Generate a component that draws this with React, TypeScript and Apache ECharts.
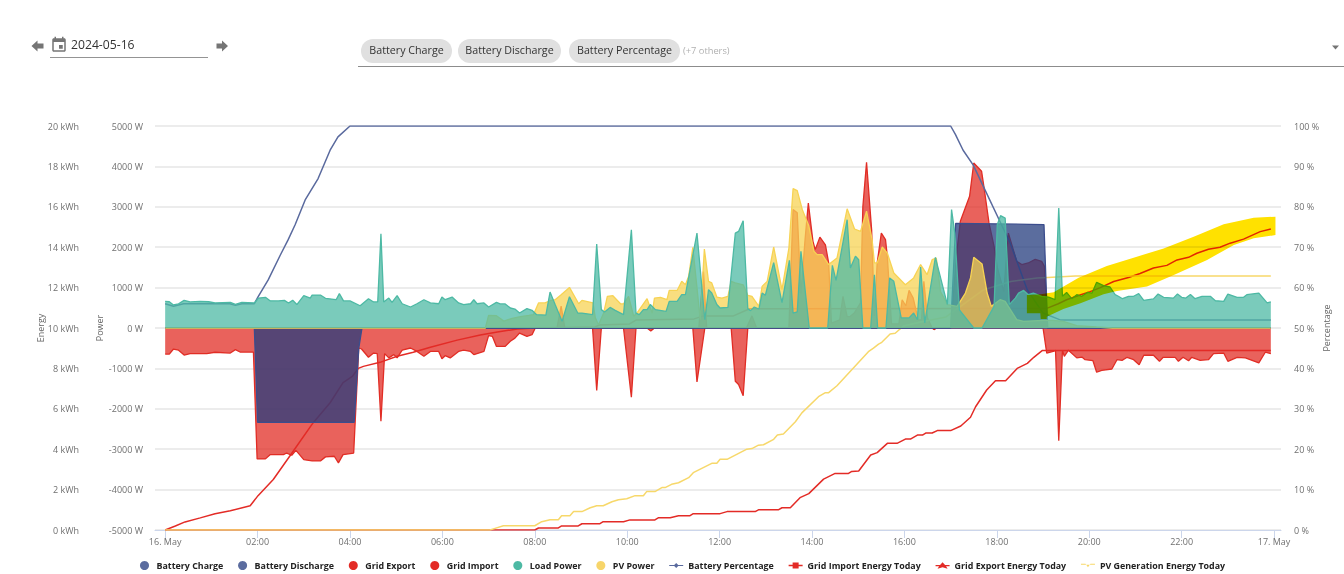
import React, { useEffect, useRef } from "react";
import * as echarts from "echarts";

type P = [number, number];

const tickHours = [0, 2, 4, 6, 8, 10, 12, 14, 16, 18, 20, 22, 24];
const tickLabels = ["16. May", "02:00", "04:00", "06:00", "08:00", "10:00", "12:00", "14:00", "16:00", "18:00", "20:00", "22:00", "17. May"];

const batteryCharge: P[] = [[0, 0], [1.93, 0], [2.0, -2335], [4.09, -2335], [4.19, -500], [4.26, 0], [23.93, 0]];
const batteryDischarge: P[] = [[0, 0], [17.0, 0], [17.11, 2590], [19.02, 2560], [19.1, 0], [23.93, 0]];

const gridExport: P[] = [[0, 0], [8.48, 0], [8.57, 540], [8.65, 0], [11.55, 0], [11.65, 1400], [11.72, 0], [12.58, 0], [12.7, 300], [12.8, 0], [13.5, 0], [13.59, 2930], [13.68, 2850], [13.76, 850], [13.85, 2200], [13.92, 3090], [14.02, 2145], [14.07, 1940], [14.17, 2250], [14.29, 2060], [14.36, 1610], [14.42, 120], [14.6, 200], [14.67, 785], [14.76, 280], [14.83, 290], [14.92, 380], [15.05, 620], [15.1, 3000], [15.18, 4100], [15.29, 2430], [15.35, 300], [15.41, 1610], [15.5, 2350], [15.59, 2190], [15.63, 1770], [15.72, 100], [15.88, 100], [15.95, 700], [16.03, 550], [16.1, 930], [16.19, 740], [16.3, 200], [16.37, 200], [16.42, 1155], [16.5, 250], [16.6, 0], [17.0, 0], [17.14, 1940], [17.21, 2640], [17.41, 3260], [17.5, 4085], [17.67, 3880], [17.72, 3500], [17.83, 2600], [17.94, 2020], [18.01, 1500], [18.15, 900], [18.25, 2350], [18.43, 1650], [18.54, 1570], [18.68, 1610], [18.83, 1700], [18.97, 1650], [19.03, 1525], [19.06, 865], [19.1, 0], [23.93, 0]];

const gridImport: P[] = [[0, -645], [0.09, -645], [0.18, -520], [0.29, -550], [0.41, -670], [0.54, -635], [0.9, -635], [1.08, -600], [1.41, -620], [1.52, -535], [1.62, -595], [1.91, -595], [1.99, -3240], [2.17, -3240], [2.27, -3135], [2.56, -3135], [2.63, -3095], [2.74, -3150], [2.83, -3030], [3.0, -3260], [3.18, -3290], [3.36, -3290], [3.47, -3190], [3.66, -3175], [3.75, -3340], [3.85, -3135], [4.08, -3095], [4.19, -495], [4.25, -520], [4.4, -725], [4.51, -620], [4.59, -635], [4.67, -2310], [4.75, -635], [4.84, -740], [4.95, -660], [5.02, -740], [5.13, -550], [5.31, -495], [5.45, -580], [5.6, -700], [5.74, -580], [5.92, -580], [5.99, -760], [6.06, -685], [6.17, -740], [6.35, -580], [6.46, -550], [6.61, -580], [6.68, -660], [6.9, -580], [7.0, -190], [7.08, -205], [7.17, -455], [7.36, -455], [7.47, -330], [7.57, -250], [7.67, -125], [7.83, -205], [7.94, -165], [8.01, 0], [9.25, 0], [9.34, -1545], [9.44, 0], [9.92, 0], [10.09, -1710], [10.19, 0], [10.43, 0], [10.51, -75], [10.59, 0], [11.42, 0], [11.51, -1335], [11.68, 0], [12.25, 0], [12.34, -1320], [12.41, -1400], [12.51, -1675], [12.61, 0], [16.6, 0], [16.64, -40], [16.7, 0], [19.0, 0], [19.08, -620], [19.22, -580], [19.27, -555], [19.34, -2790], [19.42, -550], [19.46, -700], [19.55, -550], [19.73, -740], [19.84, -720], [19.91, -785], [20.08, -810], [20.16, -1095], [20.27, -1050], [20.49, -1015], [20.6, -785], [20.71, -800], [20.82, -725], [20.96, -785], [21.08, -910], [21.18, -675], [21.39, -675], [21.52, -825], [21.6, -725], [21.86, -725], [21.93, -825], [22.03, -725], [22.15, -810], [22.22, -725], [22.4, -800], [22.58, -785], [22.69, -635], [22.91, -620], [23.0, -825], [23.2, -725], [23.38, -740], [23.67, -865], [23.81, -600], [23.93, -635]];

const loadPower: P[] = [[0, 660], [0.09, 650], [0.18, 570], [0.29, 600], [0.41, 685], [0.54, 645], [0.76, 660], [0.94, 650], [1.08, 620], [1.41, 635], [1.52, 585], [1.66, 635], [1.93, 620], [2.02, 740], [2.17, 760], [2.27, 675], [2.45, 670], [2.58, 685], [2.67, 620], [2.76, 685], [2.85, 580], [3.0, 800], [3.14, 740], [3.18, 815], [3.36, 815], [3.47, 735], [3.65, 710], [3.7, 700], [3.77, 850], [3.86, 670], [4.0, 670], [4.22, 550], [4.4, 725], [4.51, 645], [4.6, 645], [4.67, 2330], [4.73, 645], [4.84, 740], [4.91, 635], [5.02, 800], [5.13, 600], [5.31, 520], [5.45, 600], [5.6, 700], [5.74, 620], [5.92, 600], [5.99, 765], [6.06, 700], [6.21, 765], [6.35, 620], [6.46, 580], [6.61, 600], [6.68, 700], [6.75, 600], [6.9, 620], [7.0, 520], [7.17, 635], [7.25, 595], [7.36, 595], [7.47, 495], [7.57, 470], [7.67, 370], [7.83, 480], [7.94, 437], [8.04, 330], [8.24, 320], [8.33, 890], [8.44, 580], [8.59, 165], [8.75, 775], [8.93, 370], [9.02, 370], [9.25, 330], [9.34, 2080], [9.44, 455], [9.51, 395], [9.63, 510], [9.74, 437], [9.92, 330], [10.09, 2430], [10.19, 370], [10.26, 330], [10.35, 455], [10.43, 455], [10.5, 580], [10.61, 455], [10.84, 410], [10.91, 660], [11.08, 660], [11.18, 825], [11.26, 825], [11.51, 2350], [11.68, 205], [11.76, 950], [11.83, 865], [11.94, 580], [12.01, 495], [12.18, 510], [12.34, 2350], [12.41, 2390], [12.51, 2655], [12.61, 480], [12.67, 430], [12.75, 520], [12.85, 470], [12.92, 865], [12.99, 810], [13.17, 1620], [13.35, 630], [13.51, 1675], [13.59, 370], [13.68, 400], [13.76, 1900], [13.94, 0], [14.34, 0], [14.44, 1550], [14.52, 1180], [14.76, 2680], [14.83, 1485], [14.94, 1775], [15.01, 1690], [15.1, 0], [15.27, 0], [15.35, 1320], [15.42, 0], [15.6, 0], [15.68, 1240], [15.77, 1155], [15.93, 250], [16.1, 250], [16.2, 370], [16.28, 205], [16.35, 1510], [16.44, 125], [16.67, 1750], [16.93, 580], [17.02, 2930], [17.09, 2350], [17.19, 450], [17.5, 0], [17.68, 0], [17.94, 535], [18.01, 2560], [18.08, 2780], [18.18, 2720], [18.27, 580], [18.4, 740], [18.47, 865], [18.58, 930], [18.68, 825], [18.79, 865], [18.97, 785], [19.12, 765], [19.26, 700], [19.34, 2970], [19.42, 785], [19.51, 880], [19.62, 725], [19.73, 825], [19.84, 785], [19.96, 880], [20.06, 865], [20.16, 1130], [20.31, 1050], [20.45, 1015], [20.56, 825], [20.63, 785], [20.72, 725], [20.85, 785], [20.96, 785], [21.07, 850], [21.18, 685], [21.39, 720], [21.49, 840], [21.61, 760], [21.82, 740], [21.91, 840], [22.0, 760], [22.09, 740], [22.19, 830], [22.29, 725], [22.44, 785], [22.62, 785], [22.73, 675], [22.91, 660], [23.0, 840], [23.2, 760], [23.34, 760], [23.41, 825], [23.67, 865], [23.85, 620], [23.93, 645]];

const pvPower: P[] = [[0, 0], [6.93, 0], [7.0, 313], [7.17, 305], [7.33, 170], [7.51, 240], [7.69, 280], [7.87, 310], [7.97, 330], [8.08, 620], [8.22, 620], [8.33, 675], [8.44, 700], [8.57, 825], [8.75, 1005], [8.95, 600], [9.02, 685], [9.26, 620], [9.31, 250], [9.38, 80], [9.49, 370], [9.57, 785], [9.69, 800], [9.86, 595], [9.92, 600], [10.03, 785], [10.14, 290], [10.21, 370], [10.43, 725], [10.54, 370], [10.59, 740], [10.72, 760], [10.86, 700], [10.91, 930], [11.08, 930], [11.18, 1155], [11.26, 1070], [11.33, 1280], [11.42, 1995], [11.51, 1000], [11.58, 205], [11.67, 1955], [11.76, 1155], [11.83, 1115], [11.94, 765], [12.05, 740], [12.18, 785], [12.25, 1155], [12.34, 1115], [12.51, 1070], [12.61, 810], [12.7, 785], [12.85, 535], [12.92, 1030], [13.03, 1155], [13.17, 2005], [13.35, 950], [13.5, 1980], [13.59, 3450], [13.68, 3400], [13.79, 2930], [13.93, 2530], [14.04, 1900], [14.11, 1815], [14.22, 1815], [14.36, 1570], [14.54, 1730], [14.76, 2950], [14.92, 2450], [15.05, 2390], [15.18, 2890], [15.3, 2190], [15.35, 1610], [15.41, 1610], [15.52, 2005], [15.63, 1855], [15.77, 1360], [16.02, 1070], [16.2, 1240], [16.35, 1570], [16.49, 1320], [16.6, 1690], [16.69, 1730], [16.78, 905], [16.93, 580], [17.14, 535], [17.32, 865], [17.43, 1240], [17.5, 1750], [17.68, 1585], [17.79, 865], [17.88, 535], [18.07, 700], [18.18, 660], [18.43, 205], [18.58, 165], [19.0, 190], [19.22, 190], [19.44, 165], [19.73, 58], [20.16, 25], [20.5, 0], [23.93, 0]];

const batteryPercentage: P[] = [[0, 56], [0.18, 55.4], [0.4, 56], [1.4, 56], [1.52, 55.6], [1.66, 56], [1.93, 56], [2.01, 57.7], [2.23, 61.9], [2.49, 68], [2.66, 71.8], [2.81, 75.5], [3.03, 81.7], [3.31, 87], [3.57, 94], [3.74, 97.3], [4.0, 100], [17.0, 100], [17.1, 98], [17.27, 94], [17.49, 90.3], [17.71, 85], [18.07, 76.3], [18.29, 71], [18.66, 59.4], [19.0, 53.7], [19.37, 52], [23.93, 52]];

const gridImportEnergy: P[] = [[0, 0], [0.22, 0.2], [0.43, 0.4], [0.76, 0.6], [1.08, 0.8], [1.41, 0.95], [1.84, 1.2], [2.01, 1.7], [2.34, 2.5], [2.71, 3.7], [3.2, 5.3], [3.57, 6.3], [3.85, 7.3], [4.05, 7.6], [4.18, 8.0], [4.29, 8.1], [4.65, 8.3], [5.02, 8.6], [5.37, 8.8], [5.74, 9.05], [6.32, 9.4], [6.82, 9.65], [7.19, 9.8], [7.62, 9.95], [8.0, 10.0], [9.3, 10.05], [9.4, 10.15], [10.05, 10.2], [10.2, 10.4], [11.45, 10.45], [11.65, 10.6], [12.3, 10.6], [12.65, 10.95], [19.08, 10.97], [19.33, 11.2], [19.51, 11.4], [19.8, 11.63], [20.02, 11.8], [20.24, 12.0], [20.53, 12.3], [20.85, 12.5], [21.1, 12.7], [21.39, 12.97], [21.68, 13.1], [21.9, 13.37], [22.15, 13.5], [22.33, 13.7], [22.58, 13.9], [22.83, 14.0], [23.05, 14.2], [23.34, 14.4], [23.7, 14.77], [23.93, 14.9]];

const bandUpper: P[] = [[18.65, 11.63], [18.95, 11.67], [19.23, 11.77], [19.77, 12.49], [20.38, 13.07], [21.03, 13.53], [21.61, 13.94], [22.26, 14.52], [22.91, 15.13], [23.56, 15.46], [24.03, 15.51]];
const bandLower: P[] = [[18.65, 10.73], [18.94, 10.73], [18.95, 10.45], [19.08, 10.45], [19.08, 10.56], [19.44, 10.94], [19.81, 11.22], [20.31, 11.67], [20.6, 11.83], [21.25, 12.05], [21.83, 12.62], [22.55, 13.37], [23.13, 14.11], [23.56, 14.44], [24.03, 14.6]];

const gridExportEnergy: P[] = [[0, 0], [8.0, 0], [8.08, 0.1], [8.51, 0.1], [8.58, 0.2], [8.94, 0.2], [9.02, 0.31], [9.41, 0.31], [9.48, 0.41], [9.92, 0.41], [10.06, 0.5], [10.6, 0.5], [10.68, 0.61], [10.93, 0.61], [11.11, 0.71], [11.36, 0.71], [11.43, 0.81], [12.01, 0.81], [12.16, 0.91], [12.77, 0.91], [12.84, 1.0], [13.27, 1.0], [13.35, 1.1], [13.53, 1.1], [13.74, 1.6], [13.93, 1.8], [14.25, 2.52], [14.5, 2.8], [14.79, 2.8], [14.86, 2.9], [15.01, 2.92], [15.27, 3.71], [15.41, 3.83], [15.63, 4.29], [15.84, 4.29], [16.02, 4.5], [16.13, 4.5], [16.28, 4.7], [16.39, 4.7], [16.46, 4.8], [16.6, 4.8], [16.71, 4.92], [17.0, 4.92], [17.22, 5.15], [17.43, 5.58], [17.54, 6.1], [17.78, 6.93], [17.97, 7.39], [18.19, 7.39], [18.44, 8.0], [18.66, 8.25], [18.8, 8.55], [18.98, 8.88], [23.93, 8.88]];

const pvGenerationEnergy: P[] = [[0, 0], [7.03, 0], [7.14, 0.08], [7.32, 0.21], [8.0, 0.21], [8.15, 0.41], [8.33, 0.51], [8.51, 0.51], [8.58, 0.71], [8.76, 0.71], [8.84, 0.91], [9.02, 0.91], [9.2, 1.1], [9.34, 1.2], [9.48, 1.2], [9.67, 1.4], [9.81, 1.5], [9.99, 1.55], [10.17, 1.7], [10.35, 1.7], [10.42, 1.9], [10.6, 1.9], [10.75, 2.1], [10.82, 2.1], [10.96, 2.26], [11.11, 2.34], [11.33, 2.59], [11.43, 2.84], [11.83, 3.3], [11.94, 3.3], [12.01, 3.5], [12.16, 3.5], [12.59, 4.0], [12.7, 4.03], [12.84, 4.2], [12.95, 4.22], [13.17, 4.49], [13.25, 4.7], [13.38, 4.75], [13.64, 5.36], [13.78, 5.8], [14.14, 6.6], [14.29, 6.8], [14.36, 6.8], [14.54, 7.14], [15.22, 8.83], [15.33, 9.0], [15.44, 9.2], [15.51, 9.29], [15.69, 9.7], [15.8, 9.74], [15.98, 10.1], [16.35, 10.3], [16.9, 10.55], [17.7, 11.88], [18.3, 12.3], [18.87, 12.47], [19.1, 12.5], [19.7, 12.57], [23.93, 12.57]];

const chipLabels = ["Battery Charge", "Battery Discharge", "Battery Percentage"];
const othersLabel = "(+7 others)";
const dateLabel = "2024-05-16";

const BLUE = "#243c7d";
const BLUE_LINE = "#3b4d8d";
const RED = "#e12d25";
const TEAL = "#4db9a4";
const YELLOW = "#f7d354";
const FONT = '"Open Sans", sans-serif';
const BAND = "#ffe100";
const X_MIN = -0.22;
const X_MAX = 24.15;
const GRID = { left: 155, right: 63, top: 126, height: 404, outerBoundsMode: "none" };

echarts.graphic.registerShape(
  "calIcon",
  echarts.graphic.extendPath(
    "M17 12h-5v5h5v-5zM16 1v2H8V1H6v2H5c-1.11 0-1.99.9-1.99 2L3 19c0 1.1.89 2 2 2h14c1.1 0 2-.9 2-2V5c0-1.1-.9-2-2-2h-1V1h-2zm3 18H5V8h14v11z",
    {}
  ) as any
);

const area = (name: string, data: P[], color: string, z: number, stroke: string = color) => ({
  name,
  type: "line",
  data,
  yAxisIndex: 1,
  showSymbol: false,
  silent: true,
  z,
  lineStyle: { color: stroke, width: 1.3 },
  itemStyle: { color },
  areaStyle: { color, opacity: 0.75, origin: 0 },
});

const line = (name: string, data: P[], color: string, yAxisIndex: number, z: number) => ({
  name,
  type: "line",
  data,
  yAxisIndex,
  showSymbol: false,
  silent: true,
  z,
  lineStyle: { color, width: 1.5 },
  itemStyle: { color },
});

const makeHeader = () => {
  const grey = "#757575";
  const chips = [
    { x: 361, w: 91 },
    { x: 458, w: 103 },
    { x: 569, w: 111 },
  ];
  const g: any[] = [
    { type: "polygon", shape: { points: [[31.5, 46], [37.5, 40.5], [37.5, 43.5], [43.5, 43.5], [43.5, 48.5], [37.5, 48.5], [37.5, 51.5]] }, style: { fill: grey } },
    { type: "polygon", shape: { points: [[228, 46], [222, 40.5], [222, 43.5], [216.5, 43.5], [216.5, 48.5], [222, 48.5], [222, 51.5]] }, style: { fill: grey } },
    { type: "calIcon", x: 50, y: 36, scaleX: 0.75, scaleY: 0.75, style: { fill: grey } },
    { type: "text", x: 71, y: 44.5, style: { text: dateLabel, font: `12.2px ${FONT}`, fill: "#333", textVerticalAlign: "middle" } },
    { type: "line", shape: { x1: 50, y1: 57.5, x2: 208, y2: 57.5 }, style: { stroke: "#949494", lineWidth: 1 } },
    { type: "line", shape: { x1: 358, y1: 66.5, x2: 1344, y2: 66.5 }, style: { stroke: "#8c8c8c", lineWidth: 1 } },
    { type: "polygon", shape: { points: [[1332, 45.5], [1339, 45.5], [1335.5, 49.5]] }, style: { fill: grey } },
    { type: "text", x: 683, y: 50.5, style: { text: othersLabel, font: `9.3px ${FONT}`, fill: "#b0b0b0", textVerticalAlign: "middle" } },
  ];
  chips.forEach((c, i) => {
    g.push({ type: "rect", shape: { x: c.x, y: 39, width: c.w, height: 24, r: 12 }, style: { fill: "#e0e0e0" } });
    g.push({
      type: "text",
      x: c.x + c.w / 2,
      y: 50,
      style: { text: chipLabels[i], font: `10.7px ${FONT}`, fill: "#333", textAlign: "center", textVerticalAlign: "middle" },
    });
  });
  return g;
};

export default function App() {
  const ref = useRef<HTMLDivElement>(null);
  const bandRef = useRef<HTMLDivElement>(null);
  useEffect(() => {
    document.body.style.margin = "0";
    const chart = echarts.init(ref.current!, null, { renderer: "svg" });
    const bandChart = echarts.init(bandRef.current!, null, { renderer: "svg" });
    const axisLabel = { color: "#707070", fontSize: 9, fontFamily: FONT };
    const axisName = { color: "#666666", fontSize: 9, fontFamily: FONT };
    const circle = (name: string, color: string) => ({ name, icon: "circle", itemStyle: { color, opacity: 1 } });
    chart.setOption({
      animation: false,
      backgroundColor: "#ffffff",
      grid: GRID,
      legend: {
        left: 135,
        top: 556,
        itemWidth: 14,
        itemHeight: 9,
        itemGap: 14.8,
        selectedMode: false,
        textStyle: { color: "#222222", fontSize: 8.9, fontWeight: "bold", fontFamily: FONT },
        data: [
          circle("Battery Charge", "#5b6c9f"),
          circle("Battery Discharge", "#5b6c9f"),
          circle("Grid Export", "#e32b26"),
          circle("Grid Import", "#e32b26"),
          circle("Load Power", TEAL),
          circle("PV Power", "#f7d56a"),
          { name: "Battery Percentage", icon: "path://M0 4H5L7 2 9 4H14V5H9L7 7 5 5H0Z" },
          { name: "Grid Import Energy Today", icon: "path://M0 3.8H4V1.5H10V3.8H14V5.2H10V7.5H4V5.2H0Z" },
          { name: "Grid Export Energy Today", icon: "path://M0 3.8H4.5L7 1 9.5 3.8H14V5H10.5L12 7.5 7 6 2 7.5 3.5 5H0Z" },
          { name: "PV Generation Energy Today", icon: "path://M0 3.8H4.5L7 7.5 9.5 3.8H14V5H0Z" },
        ],
      },
      xAxis: {
        type: "value",
        min: X_MIN,
        max: X_MAX,
        splitLine: { show: false },
        axisLine: { onZero: false, lineStyle: { color: "#ccd6eb", width: 1 } },
        axisTick: { length: 8, lineStyle: { color: "#ccd6eb" }, customValues: tickHours },
        axisLabel: {
          ...axisLabel,
          margin: 7,
          customValues: tickHours,
          formatter: (v: number) => tickLabels[tickHours.indexOf(v)] ?? "",
        },
      },
      yAxis: [
        {
          type: "value", position: "left", offset: 64, min: 0, max: 20, interval: 2,
          name: "Energy", nameLocation: "middle", nameGap: 46, nameMoveOverlap: false, nameTextStyle: axisName,
          axisLine: { show: false }, axisTick: { show: false }, splitLine: { show: false },
          axisLabel: { ...axisLabel, margin: 12, formatter: (v: number) => `${v} kWh` },
        },
        {
          type: "value", position: "left", min: -5000, max: 5000, interval: 1000,
          name: "Power", nameLocation: "middle", nameGap: 51, nameMoveOverlap: false, nameTextStyle: axisName,
          axisLine: { show: false }, axisTick: { show: false },
          splitLine: { show: true, lineStyle: { color: "#e6e6e6", width: 1.5 } },
          axisLabel: { ...axisLabel, margin: 12, formatter: (v: number) => `${v} W` },
        },
        {
          type: "value", position: "right", min: 0, max: 100, interval: 10,
          name: "Percentage", nameLocation: "middle", nameGap: 41, nameMoveOverlap: false, nameTextStyle: axisName,
          axisLine: { show: false }, axisTick: { show: false }, splitLine: { show: false },
          axisLabel: { ...axisLabel, margin: 13, formatter: (v: number) => `${v} %` },
        },
      ],
      graphic: { elements: makeHeader() },
      series: [
        area("Grid Export", gridExport, RED, 3),
        area("Grid Import", gridImport, RED, 3),
        line("Battery Percentage", batteryPercentage, "#5a6a9e", 2, 4),
        line("Grid Import Energy Today", gridImportEnergy, "#e32b26", 0, 4),
        line("Grid Export Energy Today", gridExportEnergy, "#e32b26", 0, 4),
        line("PV Generation Energy Today", pvGenerationEnergy, "#f7d86a", 0, 4),
        area("Battery Charge", batteryCharge, BLUE, 5, BLUE_LINE),
        area("Battery Discharge", batteryDischarge, BLUE, 5, BLUE_LINE),
        area("PV Power", pvPower, YELLOW, 6),
        area("Load Power", loadPower, TEAL, 7),
      ],
    });
    bandChart.setOption({
      animation: false,
      grid: GRID,
      xAxis: { type: "value", min: X_MIN, max: X_MAX, show: false },
      yAxis: { type: "value", min: 0, max: 20, show: false },
      series: [
        {
          type: "custom",
          silent: true,
          clip: false,
          data: [bandUpper[0]],
          renderItem: (_params: any, api: any) => ({
            type: "polygon",
            shape: {
              points: [...bandUpper, ...[...bandLower].reverse()].map((p) => api.coord(p)),
            },
            style: { fill: BAND },
          }),
        },
      ],
    });
    return () => {
      chart.dispose();
      bandChart.dispose();
    };
  }, []);
  return (
    <div style={{ position: "relative", width: 1344, height: 574 }}>
      <div ref={ref} style={{ position: "absolute", left: 0, top: 0, width: 1344, height: 574 }} />
      <div
        ref={bandRef}
        style={{ position: "absolute", left: 0, top: 0, width: 1344, height: 574, mixBlendMode: "multiply", pointerEvents: "none" }}
      />
    </div>
  );
}
